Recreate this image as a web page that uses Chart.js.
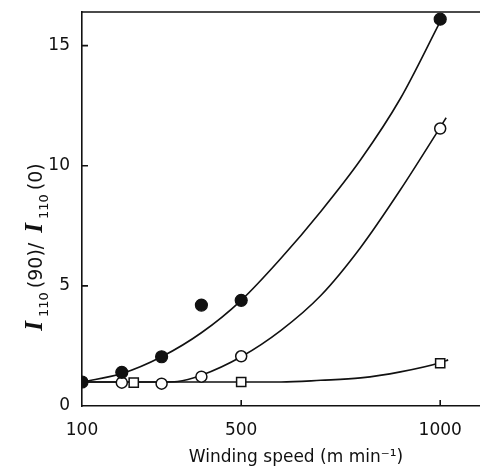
<!DOCTYPE html>
<html>
<head>
<meta charset="utf-8">
<script src="https://cdn.jsdelivr.net/npm/chart.js@4.4.1/dist/chart.umd.min.js"></script>
<style>
html, body { margin: 0; padding: 0; background: #fff; }
#wrap { width: 480px; height: 468px; }
</style>
</head>
<body>
<div id="wrap"><canvas id="chart"></canvas></div>
<script>
// measured points (winding speed, intensity ratio)
var filledX = [100, 200, 300, 400, 500, 1000];
var filledY = [1.0, 1.4, 2.05, 4.2, 4.4, 16.1];
var openX = [200, 300, 400, 500, 1000];
var openY = [0.97, 0.93, 1.22, 2.07, 11.55];
var squareX = [230, 500, 1000];
var squareY = [0.97, 1.0, 1.78];

// fitted curves
var filledCurveX = [100, 200, 300, 400, 500, 600, 700, 800, 900, 1000];
var filledCurveY = [1.0, 1.35, 2.05, 3.05, 4.4, 6.15, 8.1, 10.25, 12.8, 16.0];
var openCurveX = [100, 200, 300, 340, 400, 500, 600, 700, 800, 900, 1000, 1015];
var openCurveY = [1.0, 1.0, 1.0, 1.02, 1.28, 2.05, 3.15, 4.6, 6.6, 9.0, 11.6, 12.0];
var squareCurveX = [100, 300, 500, 600, 700, 800, 900, 1000, 1020];
var squareCurveY = [1.0, 1.0, 1.0, 1.0, 1.07, 1.17, 1.42, 1.8, 1.92];

var xTicks = [100, 500, 1000];
var yTicks = [0, 5, 10, 15];

var ink = '#111';
var sans = '"DejaVu Sans", sans-serif';

function pts(xs, ys) {
    return xs.map(function (x, i) { return { x: x, y: ys[i] }; });
}

function curve(xs, ys) {
    return {
        type: 'line',
        data: pts(xs, ys),
        borderColor: ink,
        borderWidth: 1.6,
        pointRadius: 0,
        fill: false,
        cubicInterpolationMode: 'monotone'
    };
}

// axis decorations: top frame line, inward ticks, titles
var decorations = {
    id: 'decorations',
    afterDraw: function (chart) {
        var ctx = chart.ctx;
        var area = chart.chartArea;
        var xs = chart.scales.x;
        var ys = chart.scales.y;
        ctx.save();
        ctx.strokeStyle = ink;
        ctx.lineWidth = 1.6;
        ctx.beginPath();
        ctx.moveTo(area.left, area.top);
        ctx.lineTo(area.right, area.top);
        ys.ticks.forEach(function (t) {
            if (t.value === 0) return;
            var py = ys.getPixelForValue(t.value);
            ctx.moveTo(area.left, py);
            ctx.lineTo(area.left + 6, py);
        });
        xs.ticks.forEach(function (t) {
            if (t.value === xs.min) return;
            var px = xs.getPixelForValue(t.value);
            ctx.moveTo(px, area.bottom);
            ctx.lineTo(px, area.bottom - 6);
        });
        ctx.stroke();

        ctx.fillStyle = ink;
        ctx.textBaseline = 'alphabetic';
        ctx.font = '17px ' + sans;
        ctx.textAlign = 'center';
        ctx.fillText('Winding speed (m min\u207B\u00B9)', 296, 462);

        // y title, rotated, mixed fonts
        var parts = [
            { t: 'I', f: 'italic bold 25px "Liberation Serif", serif', dy: 0 },
            { t: '110', f: '13px ' + sans, dy: 6 },
            { t: '(90)/ ', f: '19px ' + sans, dy: 0 },
            { t: 'I', f: 'italic bold 25px "Liberation Serif", serif', dy: 0 },
            { t: '110', f: '13px ' + sans, dy: 6 },
            { t: '(0)', f: '19px ' + sans, dy: 0 }
        ];
        var total = 0;
        parts.forEach(function (p) { ctx.font = p.f; p.w = ctx.measureText(p.t).width + 4; total += p.w; });
        ctx.translate(42, 245 + total / 2);
        ctx.rotate(-Math.PI / 2);
        ctx.textAlign = 'left';
        var cx = 0;
        parts.forEach(function (p) {
            ctx.font = p.f;
            ctx.fillText(p.t, cx, p.dy);
            cx += p.w;
        });
        ctx.restore();
    }
};

var ctxMain = document.getElementById('chart').getContext('2d');
var chart = new Chart(ctxMain, {
    type: 'scatter',
    data: {
        datasets: [
            {
                data: pts(filledX, filledY),
                pointStyle: 'circle', pointRadius: 6,
                backgroundColor: ink, borderColor: ink, borderWidth: 1.2
            },
            {
                data: pts(openX, openY),
                pointStyle: 'circle', pointRadius: 5.5,
                backgroundColor: '#fff', borderColor: ink, borderWidth: 1.5
            },
            {
                data: pts(squareX, squareY),
                pointStyle: 'rect', pointRadius: 6.5,
                backgroundColor: '#fff', borderColor: ink, borderWidth: 1.5
            },
            curve(filledCurveX, filledCurveY),
            curve(openCurveX, openCurveY),
            curve(squareCurveX, squareCurveY)
        ]
    },
    options: {
        responsive: true,
        maintainAspectRatio: false,
        animation: false,
        layout: { autoPadding: false, padding: { top: 12, right: 0, left: 0, bottom: 0 } },
        plugins: { legend: { display: false }, tooltip: { enabled: false } },
        scales: {
            x: {
                type: 'linear', min: 100, max: 1100,
                afterBuildTicks: function (s) { s.ticks = xTicks.map(function (v) { return { value: v }; }); },
                afterFit: function (s) { s.height = 62; s.paddingLeft = 0; s.paddingRight = 0; },
                grid: { display: false, drawTicks: false },
                border: { color: ink, width: 1.6 },
                ticks: {
                    font: { family: sans, size: 17 }, color: ink, padding: 14, maxRotation: 0, autoSkip: false,
                    callback: function (v) { return String(v); }
                }
            },
            y: {
                min: 0, max: 16.4,
                afterBuildTicks: function (s) { s.ticks = yTicks.map(function (v) { return { value: v }; }); },
                afterFit: function (s) { s.width = 82; s.paddingTop = 0; s.paddingBottom = 0; },
                grid: { display: false, drawTicks: false },
                border: { color: ink, width: 1.6 },
                ticks: { font: { family: sans, size: 17 }, color: ink, padding: 12 }
            }
        }
    },
    plugins: [decorations]
});
</script>
</body>
</html>
